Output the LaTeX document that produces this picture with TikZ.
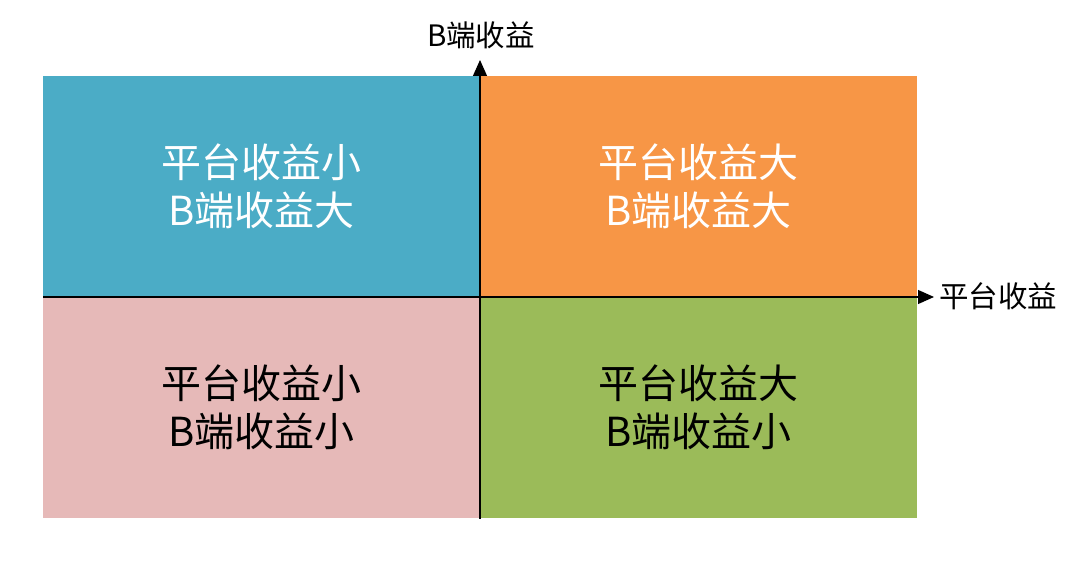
\documentclass[tikz,border=0pt]{standalone}
\usepackage{fontspec}
\setmainfont{Noto Sans CJK SC}
\usetikzlibrary{arrows.meta}
\definecolor{qblue}{HTML}{4BACC6}
\definecolor{qorange}{HTML}{F79646}
\definecolor{qpink}{HTML}{E6B9B8}
\definecolor{qgreen}{HTML}{9BBB59}
\begin{document}
\begin{tikzpicture}[x=1pt,y=1pt,
  quad/.style={minimum width=437pt,minimum height=221.5pt,inner sep=0pt,outer sep=0pt,
    align=center,font=\fontsize{40}{48}\selectfont},
  axisline/.style={line width=1.2pt,-{Triangle[length=16pt,width=14pt]}},
  axislabel/.style={font=\fontsize{29.5}{32}\selectfont,inner sep=0pt}]
\useasboundingbox (0,0) rectangle (1080,562);
\node[quad,fill=qblue,text=white] (tl) at (261.5,375.5) {平台收益小\\B端收益大};
\node[quad,fill=qorange,text=white] (tr) at (698.5,375.5) {平台收益大\\B端收益大};
\node[quad,fill=qpink,text=black] (bl) at (261.5,154.25) {平台收益小\\B端收益小};
\node[quad,fill=qgreen,text=black] (br) at (698.5,154.25) {平台收益大\\B端收益小};
\coordinate (vs) at (480,43);
\coordinate (ve) at (480,502);
\coordinate (hs) at (43,265);
\coordinate (he) at (934,265);
\draw[axisline] (vs) -- (ve);
\draw[axisline] (hs) -- (he);
\node[axislabel] (ylab) at (481,527) {B端收益};
\node[axislabel,anchor=west] (xlab) at (939,266) {平台收益};
\end{tikzpicture}
\end{document}
